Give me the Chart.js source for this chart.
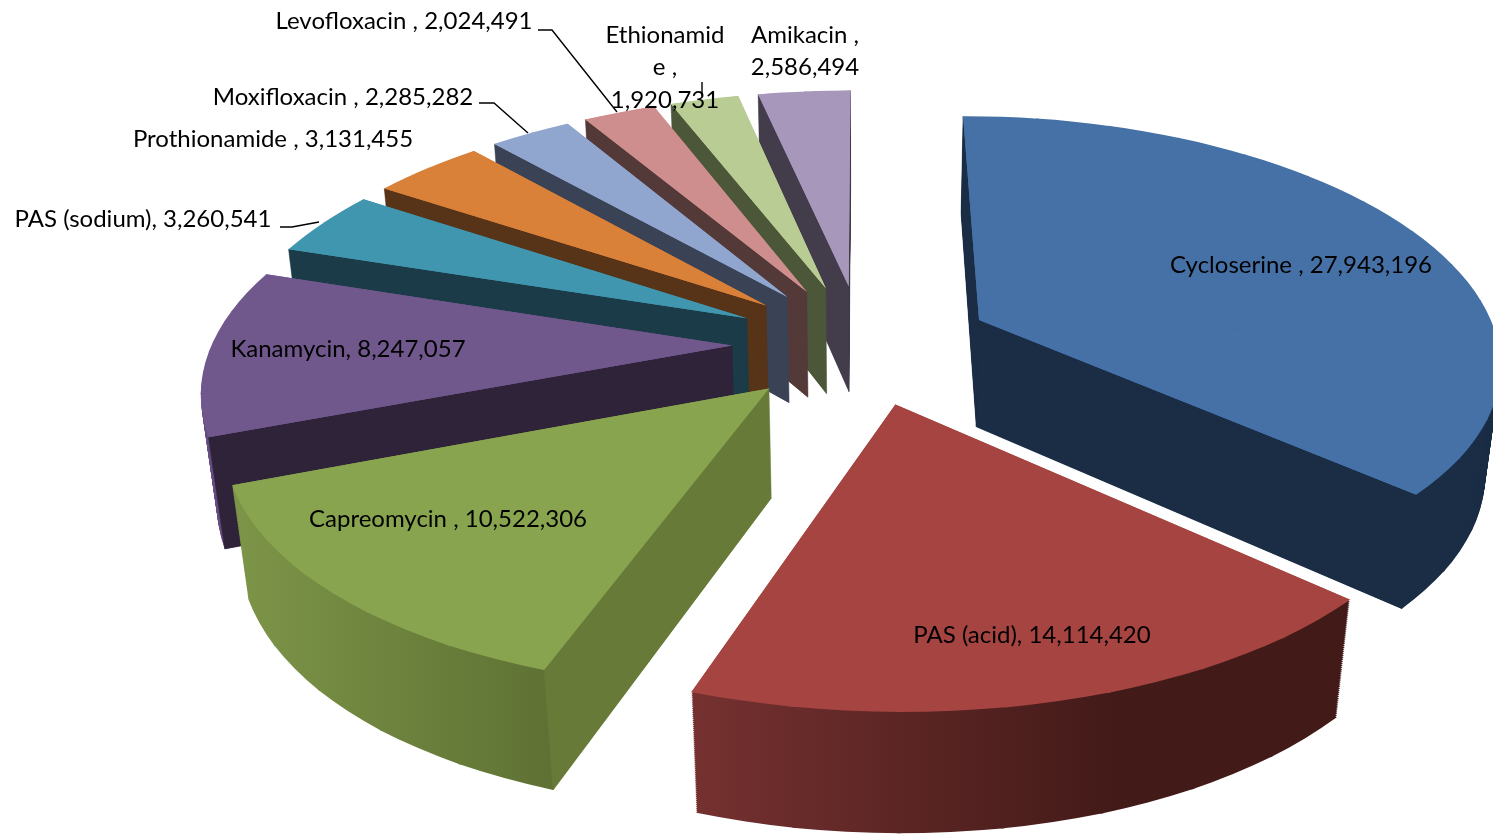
<!DOCTYPE html>
<html>
<head>
<meta charset="utf-8">
<title>Second-line TB drugs</title>
<script src="https://cdn.jsdelivr.net/npm/chart.js@4"></script>
<style>
  html, body { margin: 0; padding: 0; background: #fff; overflow: hidden; }
  canvas { display: block; }
</style>
</head>
<body>
<canvas id="pie" width="1493" height="836"></canvas>
<script>
const drugNames = ['Cycloserine ', 'PAS (acid)', 'Capreomycin ', 'Kanamycin', 'PAS (sodium)',
  'Prothionamide ', 'Moxifloxacin ', 'Levofloxacin ', 'Ethionamide ', 'Amikacin '];
const drugValues = [27943196, 14114420, 10522306, 8247057, 3260541, 3131455, 2285282, 2024491, 1920731, 2586494];

// explosion of each slice, in hundredths of the radius
const explode = [25, 25, 25, 25, 25, 25, 25, 25, 25, 25];
const topColors = ['#4571a6', '#a64442', '#89a44e', '#70578c', '#4096ae', '#d98039', '#91a6cf', '#ce8e8d', '#b8cc94', '#a797bb'];
const faceColors = ['#1a2d45', '#421a18', '#677a38', '#2e2339', '#1a3b47', '#573318', '#3a4356', '#533938', '#4c5639', '#423c4b'];
const rimColors = ['#1a2d45', null, null, '#664e83', '#1a3b47', '#573318', '#3a4356', '#533938', '#4c5639', '#423c4b'];
// shaded rims: screen x range and the colours across it
const rimShades = { 1: [692, '#753130', 1120, '#421a18'], 2: [232, '#7d9548', 545, '#5f7234'] };

// camera of the 3D view
const cam = { xv: 862, yv: -1263, h: 1607, px: 0.16, py: 0.15, a: 520, q: 0.024, d: 149 };
const LAYERS = 60;
const PIECE = Math.PI / 18;   // slices are drawn in wedges of 10 degrees at most
const OVERLAP = 0.006;

const labelFont = '24px Lato';
const labelSpots = [
  { x: 1301, y: 265 }, { x: 1032, y: 635 }, { x: 448, y: 519 }, { x: 348, y: 349 }, { x: 143, y: 219 },
  { x: 273, y: 139 }, { x: 343, y: 97 }, { x: 404, y: 21 },
  { x: 665, y: 35, lines: ['Ethionamid', 'e ,', '1,920,731'] },
  { x: 805, y: 35, lines: ['Amikacin ,', '2,586,494'] }
];
const leaders = [
  [[538, 30], [552, 30], [617, 112]],
  [[479, 103], [494, 103], [528, 133]],
  [[280, 227], [292, 227], [319, 222]],
  [[702, 82], [702, 96]]
];

function project(x, y, z) {
  const wx = 1 - cam.px * y + cam.q * z;
  const wy = 1 - cam.py * y + cam.q * z;
  return { x: cam.xv + cam.a * x / wx, y: cam.yv + (cam.h + cam.d * z) / wy };
}

// where a slice sits in the 3D world and in the canvas
function sliceGeom(arc, i) {
  const mid = (arc.startAngle + arc.endAngle) / 2;
  return {
    cx: arc.x, cy: arc.y, r: arc.outerRadius,
    wx: Math.cos(mid) * explode[i] / 100, wy: Math.sin(mid) * explode[i] / 100,
    start: arc.startAngle, end: arc.endAngle
  };
}

// affine map taking one flat wedge onto the view at depth z
function wedgeMatrix(g, s, e, z) {
  const a = project(g.wx, g.wy, z);
  const b = project(g.wx + Math.cos(s), g.wy + Math.sin(s), z);
  const c = project(g.wx + Math.cos(e), g.wy + Math.sin(e), z);
  const ux = Math.cos(s) * g.r, uy = Math.sin(s) * g.r;
  const vx = Math.cos(e) * g.r, vy = Math.sin(e) * g.r;
  const det = ux * vy - uy * vx;
  const m = {
    a: ((b.x - a.x) * vy - (c.x - a.x) * uy) / det,
    c: ((c.x - a.x) * ux - (b.x - a.x) * vx) / det,
    b: ((b.y - a.y) * vy - (c.y - a.y) * uy) / det,
    d: ((c.y - a.y) * ux - (b.y - a.y) * vx) / det
  };
  m.e = a.x - m.a * g.cx - m.c * g.cy;
  m.f = a.y - m.b * g.cx - m.d * g.cy;
  return m;
}

function rimFill(ctx, m, i) {
  const s = rimShades[i];
  if (!s) return rimColors[i];
  // gradient laid out in slice space so it runs along screen x
  const n = m.a * m.a + m.c * m.c;
  const k1 = (s[0] - m.e) / n, k2 = (s[2] - m.e) / n;
  const g = ctx.createLinearGradient(k1 * m.a, k1 * m.c, k2 * m.a, k2 * m.c);
  g.addColorStop(0, s[1]);
  g.addColorStop(1, s[3]);
  return g;
}

// one level of a slice: the arc element is drawn wedge by wedge
function drawLevel(ctx, arc, base, g, z, fillFor) {
  const count = Math.ceil((g.end - g.start) / PIECE);
  const step = (g.end - g.start) / count;
  for (let k = 0; k < count; k++) {
    const s = g.start + k * step;
    const m = wedgeMatrix(g, s, s + step, z);
    arc.startAngle = s;
    arc.endAngle = k < count - 1 ? s + step + OVERLAP : s + step;
    arc.circumference = arc.endAngle - s;
    arc.options = Object.assign({}, base, { backgroundColor: fillFor(m), borderWidth: 0, offset: 0 });
    ctx.save();
    ctx.transform(m.a, m.b, m.c, m.d, m.e, m.f);
    arc.draw(ctx);
    ctx.restore();
  }
  arc.startAngle = g.start;
  arc.endAngle = g.end;
  arc.circumference = g.end - g.start;
  arc.options = base;
}

function fillPolygon(ctx, pts, color) {
  ctx.beginPath();
  pts.forEach((p, k) => k ? ctx.lineTo(p.x, p.y) : ctx.moveTo(p.x, p.y));
  ctx.closePath();
  ctx.fillStyle = color;
  ctx.fill();
}

function drawFace(ctx, g, angle, sign, color) {
  const rx = g.wx + Math.cos(angle), ry = g.wy + Math.sin(angle);
  const pts = [project(g.wx, g.wy, 0), project(rx, ry, 0), project(rx, ry, 1), project(g.wx, g.wy, 1)];
  let area = 0;
  pts.forEach((p, k) => {
    const q = pts[(k + 1) % 4];
    area += p.x * q.y - q.x * p.y;
  });
  if (area * sign <= 0) return;
  ctx.strokeStyle = color;
  ctx.lineWidth = 0.5;
  fillPolygon(ctx, pts, color);
  ctx.stroke();
}

// covers the hairlines where the top wedges meet near the apex
function underlayTop(ctx, g, color) {
  fillPolygon(ctx, [
    project(g.wx, g.wy, 0),
    project(g.wx + Math.cos(g.start), g.wy + Math.sin(g.start), 0),
    project(g.wx + Math.cos(g.end), g.wy + Math.sin(g.end), 0)
  ], color);
}

const pie3d = {
  id: 'pie3d',
  beforeDatasetDraw(chart, args) {
    const ctx = chart.ctx;
    const arcs = chart.getDatasetMeta(args.index).data;
    // back slices first, so the last drawn are the nearest
    for (let i = arcs.length - 1; i >= 0; i--) {
      const arc = arcs[i];
      const base = arc.options;
      const g = sliceGeom(arc, i);
      for (let l = LAYERS; l > 0; l--) {
        drawLevel(ctx, arc, base, g, l / LAYERS, m => rimFill(ctx, m, i));
      }
      drawFace(ctx, g, g.start, -1, faceColors[i]);
      drawFace(ctx, g, g.end, 1, faceColors[i]);
      drawLevel(ctx, arc, base, g, 0, () => topColors[i]);
      underlayTop(ctx, g, topColors[i]);
    }
    return false;
  },
  afterDatasetsDraw(chart) {
    const ctx = chart.ctx;
    ctx.save();
    ctx.strokeStyle = '#000';
    ctx.lineWidth = 1.4;
    leaders.forEach(line => {
      ctx.beginPath();
      line.forEach((p, k) => k ? ctx.lineTo(p[0], p[1]) : ctx.moveTo(p[0], p[1]));
      ctx.stroke();
    });
    ctx.fillStyle = '#000';
    ctx.font = labelFont;
    ctx.textAlign = 'center';
    ctx.textBaseline = 'middle';
    labelSpots.forEach((spot, i) => {
      const text = drugNames[i] + ', ' + drugValues[i].toLocaleString('en-US');
      (spot.lines || [text]).forEach((t, k) => ctx.fillText(t, spot.x, spot.y + k * 32.5));
    });
    ctx.restore();
  }
};

new Chart(document.getElementById('pie'), {
  type: 'pie',
  data: {
    labels: drugNames,
    datasets: [{ data: drugValues, backgroundColor: topColors, borderWidth: 0, offset: explode }]
  },
  options: {
    responsive: false,
    animation: false,
    layout: { padding: 0 },
    plugins: { legend: { display: false }, tooltip: { enabled: false } }
  },
  plugins: [pie3d]
});
</script>
</body>
</html>
